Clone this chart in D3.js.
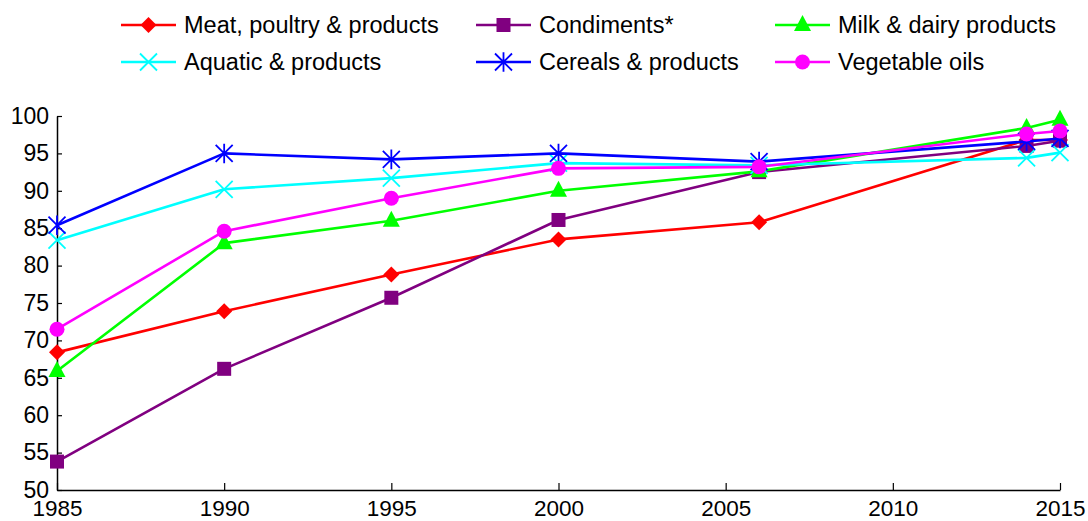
<!DOCTYPE html>
<html><head><meta charset="utf-8">
<script src="https://cdn.jsdelivr.net/npm/d3@7"></script>
<style>body{margin:0;background:#fff}svg{display:block}text{font-family:"Liberation Sans",Arial,sans-serif}</style>
</head><body><svg id="c" width="1088" height="521"></svg>
<script>
const years = [1985, 1990, 1995, 2000, 2006, 2014, 2015];
const meat = [68.4, 73.9, 78.8, 83.5, 85.8, 96.8, 96.8];
const condiments = [53.8, 66.2, 75.7, 86.1, 92.5, 96.0, 96.7];
const milk = [65.9, 83.0, 86.0, 90.0, 92.6, 98.4, 99.5];
const aquatic = [83.4, 90.2, 91.7, 93.7, 93.4, 94.4, 95.1];
const cereals = [85.4, 95.0, 94.2, 95.0, 93.9, 96.6, 97.0];
const vegOils = [71.5, 84.6, 89.0, 93.0, 93.2, 97.6, 98.0];
const xTicks = [1985, 1990, 1995, 2000, 2005, 2010, 2015];
const yTicks = [50, 55, 60, 65, 70, 75, 80, 85, 90, 95, 100];
const seriesNames = ["Meat, poultry & products", "Condiments*", "Milk & dairy products", "Aquatic & products", "Cereals & products", "Vegetable oils"];

const series = [
  {name: seriesNames[0], values: meat, color: "#ff0000", marker: "diamond"},
  {name: seriesNames[1], values: condiments, color: "#800080", marker: "square"},
  {name: seriesNames[2], values: milk, color: "#00ff00", marker: "triangle"},
  {name: seriesNames[3], values: aquatic, color: "#00ffff", marker: "x"},
  {name: seriesNames[4], values: cereals, color: "#0000ff", marker: "star"},
  {name: seriesNames[5], values: vegOils, color: "#ff00ff", marker: "circle"}
];

const svg = d3.select("#c");
const x = d3.scaleLinear().domain([1985, 2015]).range([57, 1060]);
const y = d3.scaleLinear().domain([50, 100]).range([490, 116]);

// axes
const xAxis = d3.axisBottom(x).tickValues(xTicks).tickFormat(d3.format("d")).tickSizeInner(-7).tickSizeOuter(0).tickPadding(10);
const gx = svg.append("g").attr("transform", "translate(0,490)").call(xAxis);
gx.select(".domain").attr("stroke", "#000").attr("stroke-width", 1.5);
gx.selectAll(".tick line").attr("stroke", "#000").attr("stroke-width", 1.2);
gx.selectAll("text").attr("font-size", 22.5).attr("fill", "#000").attr("dy", "0.72em");

const yAxis = d3.axisLeft(y).tickValues(yTicks).tickSizeInner(-5).tickSizeOuter(0).tickPadding(8);
const gy = svg.append("g").attr("transform", "translate(57,0)").call(yAxis);
gy.select(".domain").attr("stroke", "#000").attr("stroke-width", 1.5);
gy.selectAll(".tick line").attr("stroke", "#000").attr("stroke-width", 1.2);
gy.selectAll("text").attr("font-size", 23).attr("fill", "#000");

function drawMarker(g, type, color, cx, cy) {
  if (type === "diamond") {
    const s = 8;
    g.append("path").attr("d", `M${cx},${cy - s}L${cx + s},${cy}L${cx},${cy + s}L${cx - s},${cy}Z`).attr("fill", color);
  } else if (type === "square") {
    g.append("rect").attr("x", cx - 7).attr("y", cy - 7).attr("width", 14).attr("height", 14).attr("fill", color);
  } else if (type === "triangle") {
    g.append("path").attr("d", `M${cx},${cy - 10}L${cx + 8.5},${cy + 6}L${cx - 8.5},${cy + 6}Z`).attr("fill", color);
  } else if (type === "circle") {
    g.append("circle").attr("cx", cx).attr("cy", cy).attr("r", 7.5).attr("fill", color);
  } else if (type === "x") {
    const s = 8.5;
    g.append("path").attr("d", `M${cx - s},${cy - s}L${cx + s},${cy + s}M${cx - s},${cy + s}L${cx + s},${cy - s}`).attr("stroke", color).attr("stroke-width", 1.8).attr("fill", "none");
  } else if (type === "star") {
    const s = 8.5;
    g.append("path").attr("d", `M${cx - s},${cy - s}L${cx + s},${cy + s}M${cx - s},${cy + s}L${cx + s},${cy - s}M${cx},${cy - s * 1.15}L${cx},${cy + s * 1.15}`).attr("stroke", color).attr("stroke-width", 1.8).attr("fill", "none");
  }
}

const line = d3.line().x((d, i) => x(years[i])).y(d => y(d));
series.forEach(s => {
  const g = svg.append("g");
  g.append("path").attr("d", line(s.values)).attr("fill", "none").attr("stroke", s.color).attr("stroke-width", 2.6).attr("stroke-linejoin", "round");
  s.values.forEach((v, i) => drawMarker(g, s.marker, s.color, x(years[i]), y(v)));
});

// legend
const legX = [121, 476, 775];
const legY = [25, 62];
series.forEach((s, i) => {
  const lx = legX[i % 3], ly = legY[Math.floor(i / 3)];
  const g = svg.append("g");
  g.append("line").attr("x1", lx).attr("x2", lx + 55).attr("y1", ly).attr("y2", ly).attr("stroke", s.color).attr("stroke-width", 2.6);
  drawMarker(g, s.marker, s.color, lx + 27.5, ly);
  g.append("text").attr("x", lx + 63).attr("y", ly).attr("dy", "0.35em").attr("font-size", 23.5).attr("fill", "#000").text(s.name);
});
</script></body></html>
